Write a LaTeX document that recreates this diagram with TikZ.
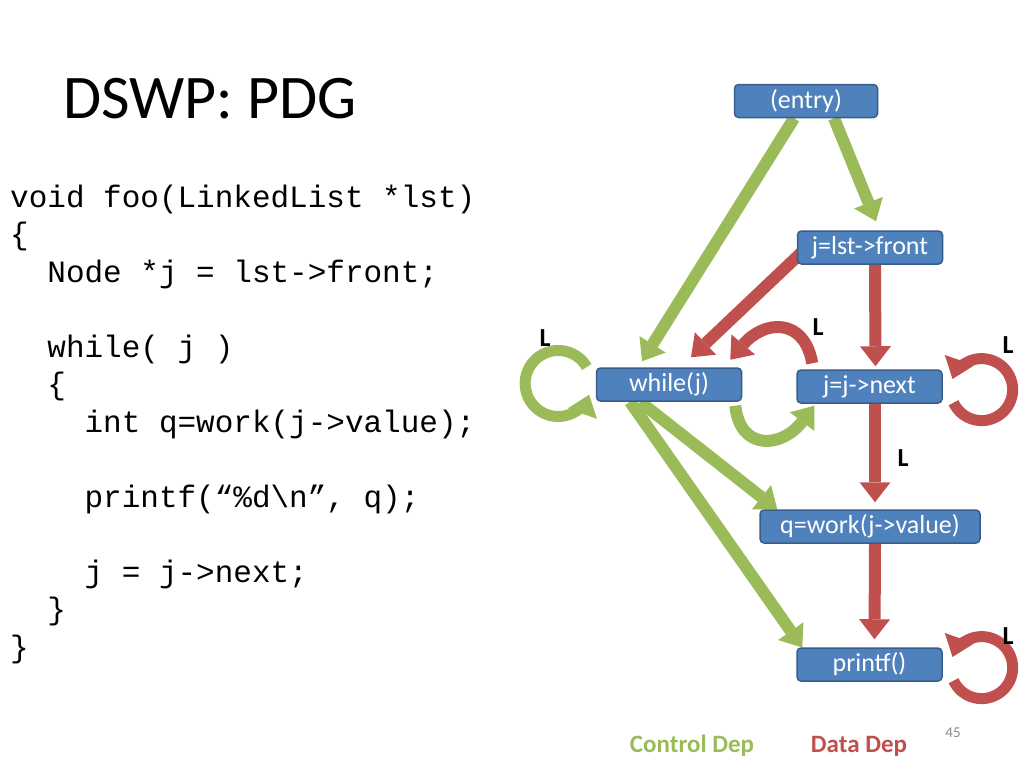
\documentclass[tikz,border=0pt]{standalone}
\usepackage{fontspec}
\setmainfont{Carlito}
\setmonofont{Liberation Mono}
\usetikzlibrary{arrows.meta,calc,backgrounds}
\definecolor{boxblue}{HTML}{4F81BD}
\definecolor{boxedge}{HTML}{385D8A}
\definecolor{ctrlgreen}{HTML}{9BBB59}
\definecolor{datared}{HTML}{C0504D}
\definecolor{pagegray}{HTML}{8C8C8C}
\tikzset{>=latex}
\tikzset{
  stmt/.style={rectangle, rounded corners=4pt, draw=boxedge, line width=1.5pt,
    fill=boxblue, text=white, font=\fontsize{26}{28}\selectfont,
    minimum width=145pt, minimum height=33pt, inner sep=2pt},
  ctrldep/.style={ctrlgreen, line width=12pt, -{Triangle[length=20pt,width=31pt,line width=0pt]}},
  datadep/.style={datared, line width=12pt, -{Triangle[length=20pt,width=31pt,line width=0pt]}},
  loopmark/.style={font=\bfseries\fontsize{26}{28}\selectfont},
  codeline/.style={anchor=base west, inner sep=0pt, font=\ttfamily\fontsize{31}{33}\selectfont}
}

\begin{document}
\begin{tikzpicture}[x=1pt,y=-1pt]
                \useasboundingbox (0,0) rectangle (1024,768);

                % title and source code
                \node[anchor=base west, inner sep=0pt, font=\fontsize{62}{64}\selectfont]
                        (title) at (63,118) {DSWP: PDG};
                \node[codeline] (c0) at (10,207) {void foo(LinkedList *lst)};
                \node[codeline] (c1) at (10,244.5) {\{};
                \node[codeline] (c2) at (47.2,282) {Node *j = lst->front;};
                \node[codeline] (c4) at (47.2,357) {while( j )};
                \node[codeline] (c5) at (47.2,394.5) {\{};
                \node[codeline] (c6) at (84.4,432) {int q=work(j->value);};
                \node[codeline] (c8) at (84.4,507) {printf(“\%d\textbackslash n”, q);};
                \node[codeline] (c10) at (84.4,582) {j = j->next;};
                \node[codeline] (c11) at (47.2,619.5) {\}};
                \node[codeline] (c12) at (10,657) {\}};

                % PDG nodes
                \node[stmt, minimum width=143pt] (entry) at (806,101) {(entry)};
                \node[stmt] (jfront) at (870,247.5) {j=lst->front};
                \node[stmt] (while) at (669,384.5) {while(j)};
                \node[stmt] (jnext) at (869.5,386.5) {j=j->next};
                \node[stmt, minimum width=220pt] (qwork) at (870,526.5) {q=work(j->value)};
                \node[stmt] (printf) at (869.5,664.5) {printf()};

                \begin{scope}[on background layer]
                % control dependences
                \draw[ctrldep] ($(entry.south)+(-12,0)$) -- ($(while.north)+(-27,-6)$);
                \draw[ctrldep] ($(entry.south)+(28,0)$) -- ($(jfront.north)+(6,-9)$);
                \draw[ctrldep] ($(while.south)+(-29,0)$) -- ($(qwork.west)+(18,-17)$);
                \draw[ctrldep] ($(while.south)+(-39,0)$) -- ($(printf.west)+(6,-17)$);
                \draw[ctrldep, line width=11pt] ($(while.west)+(-9,-17.5)$)
                        arc[start angle=-30, end angle=-340, radius=33];
                \draw[ctrldep] ($(while.south east)+(-7,4)$)
                        .. controls +(5,46) and +(-32,42) .. ($(jnext.south west)+(18,2)$);

                % data dependences
                \draw[datadep] ($(jfront.west)+(10,0)$) -- ($(while.north)+(22,-10)$);
                \draw[datadep] ($(jfront.south)+(5,0)$) -- ($(jnext.north)+(6,-3)$);
                \draw[datadep] ($(jnext.south)+(5.5,0)$) -- ($(qwork.north)+(5,-7)$);
                \draw[datadep] ($(qwork.south)+(5,0)$) -- ($(printf.north)+(5,-8)$);
                \draw[datadep] ($(jnext.north west)+(16,-6)$)
                        .. controls +(-8,-46) and +(34,-40) .. ($(while.north east)+(-12,-7.5)$);
                \draw[datadep, line width=11pt] ($(jnext.east)+(10.8,16.2)$)
                        arc[start angle=155, end angle=-160, radius=31];
                \draw[datadep, line width=11pt] ($(printf.east)+(10.8,16.2)$)
                        arc[start angle=155, end angle=-160, radius=31];
                \end{scope}

                % loop-carried marks
                \node[loopmark] (l1) at (545,338) {L};
                \node[loopmark] (l2) at (818,327) {L};
                \node[loopmark] (l3) at (1008,345) {L};
                \node[loopmark] (l4) at (903,458) {L};
                \node[loopmark] (l5) at (1008,636) {L};

                % legend and page number
                \node[font=\bfseries\fontsize{25}{27}\selectfont, text=ctrlgreen]
                        (ctrlkey) at (692,746) {Control Dep};
                \node[font=\bfseries\fontsize{25}{27}\selectfont, text=datared]
                        (datakey) at (859,746) {Data Dep};
                \node[font=\fontsize{15}{17}\selectfont, text=pagegray] (page) at (953,733) {45};
\end{tikzpicture}
\end{document}
